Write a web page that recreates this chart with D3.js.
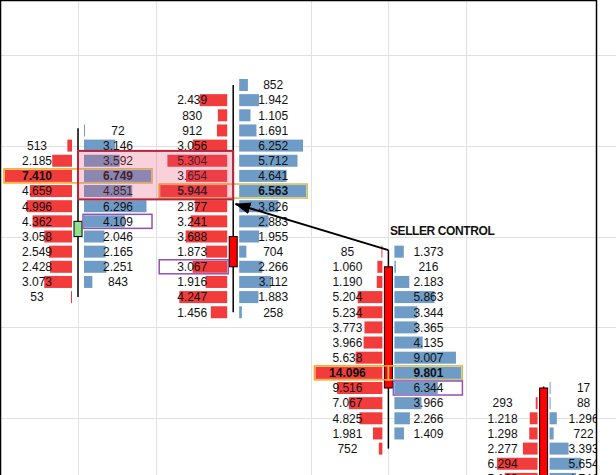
<!DOCTYPE html>
<html>
<head>
<meta charset="utf-8">
<script src="https://cdn.jsdelivr.net/npm/d3@7/dist/d3.min.js"></script>
<style>
body { margin: 0; background: #fff; }
text { font-family: "Liberation Sans", Arial, sans-serif; }
</style>
</head>
<body>
<div id="chart"></div>
<script>
// price levels are counted downward, level 0 = top row of the 2nd bar
var fp1Start = 3;
var fp1Bid = [null, 513, 2185, 7410, 4659, 4996, 4362, 3058, 2549, 2428, 3073, 53];
var fp1Ask = [72, 3146, 3592, 6749, 4851, 6296, 4109, 2046, 2165, 2251, 843, null];

var fp2Start = 0;
var fp2Bid = [null, 2439, 830, 912, 3056, 5304, 3654, 5944, 2877, 3241, 3688, 1873, 3067, 1916, 4247, 1456];
var fp2Ask = [852, 1942, 1105, 1691, 6252, 5712, 4641, 6563, 3826, 2883, 1955, 704, 2266, 3112, 1883, 258];

var fp3Start = 11;
var fp3Bid = [85, 1060, 1190, 5204, 5234, 3773, 3966, 5638, 14096, 9516, 7067, 4825, 1981, 752];
var fp3Ask = [1373, 216, 2183, 5863, 3344, 3365, 4135, 9007, 9801, 6344, 3966, 2266, 1409, null];

var fp4Start = 20;
var fp4Bid = [null, 293, 1218, 1298, 2277, 6294, 5103];
var fp4Ask = [17, 88, 1296, 722, 3393, 5654, 4741];
// the 4th bar goes on below the frame, its biggest rows are not visible
var fp4BidMax = 10400, fp4AskMax = 12000;

// candles (in price levels)
var candleOpen  = [10, 10, 12, 20];
var candleClose = [9, 12, 20, 30];
var candleHigh  = [2.85, 0, 10.9, 19.9];
var candleLow   = [14, 15, 24, 30];

// highlighted cells
var pocLevel = [6, 7, 19, null];
var markSide = ["ask", "bid", "ask", null];
var markLevel = [9, 12, 20, null];

// grid positions
var gridSlots = [0, 0.5, 1.5, 2, 2.5];
var gridLevels = [-2, 4, 10, 16, 22, 28];

// zone, arrow and label
var zoneSlots = [0, 1], zoneLevels = [4.35, 7.55];
var arrowFrom = [2, 10.9], arrowTo = [1.015, 7.85];
var labelPos = [2.01, 9.6], labelText = "SELLER CONTROL";

var width = 616, height = 475, plotRight = 596;
var fmt = d3.formatLocale({decimal: ",", thousands: ".", grouping: [3], currency: ["", ""]}).format(",");

var x = d3.scaleLinear().domain([0, 3]).range([78, 543.6]);
var y = d3.scaleLinear().domain([0, 24]).range([85, 448.6]);

var footprints = [
  {start: fp1Start, bid: fp1Bid, ask: fp1Ask, bidMax: d3.max(fp1Bid), askMax: d3.max(fp1Ask)},
  {start: fp2Start, bid: fp2Bid, ask: fp2Ask, bidMax: d3.max(fp2Bid), askMax: d3.max(fp2Ask)},
  {start: fp3Start, bid: fp3Bid, ask: fp3Ask, bidMax: d3.max(fp3Bid), askMax: d3.max(fp3Ask)},
  {start: fp4Start, bid: fp4Bid, ask: fp4Ask, bidMax: fp4BidMax, askMax: fp4AskMax}
];

var svg = d3.select("#chart")
  .append("svg")
  .attr("width", width)
  .attr("height", height);

svg.append("defs").append("clipPath").attr("id", "plot")
  .append("rect").attr("x", 0).attr("y", 0).attr("width", plotRight).attr("height", height);

svg.append("defs").append("marker")
  .attr("id", "head")
  .attr("markerUnits", "userSpaceOnUse")
  .attr("viewBox", "0 0 16 12")
  .attr("refX", 15).attr("refY", 6)
  .attr("markerWidth", 16).attr("markerHeight", 12)
  .attr("orient", "auto")
  .append("path").attr("d", "M0,0 L16,6 L0,12 Z").attr("fill", "#000");

// grid
svg.append("g").selectAll("line")
  .data(gridLevels).join("line")
  .attr("x1", 0).attr("x2", width)
  .attr("y1", d => Math.round(y(d)) + 0.5).attr("y2", d => Math.round(y(d)) + 0.5)
  .attr("stroke", "#e1e1e1");
svg.append("g").selectAll("line")
  .data(gridSlots).join("line")
  .attr("x1", d => Math.round(x(d)) + 0.5).attr("x2", d => Math.round(x(d)) + 0.5)
  .attr("y1", 0).attr("y2", height)
  .attr("stroke", "#e1e1e1");

var plot = svg.append("g").attr("clip-path", "url(#plot)");

var rowH = 12;

footprints.forEach(function(fp, i) {
  var cx = x(i);
  var bw = d3.scaleLinear().domain([0, fp.bidMax]).range([0, 67]);
  var aw = d3.scaleLinear().domain([0, fp.askMax]).range([0, 67]);
  var rows = fp.bid.map(function(b, k) { return {level: fp.start + k, bid: b, ask: fp.ask[k]}; });

  var g = plot.append("g");

  g.selectAll("rect.bid")
    .data(rows.filter(d => d.bid != null)).join("rect")
    .attr("class", "bid")
    .attr("x", d => cx - 6 - Math.max(1, bw(d.bid)))
    .attr("y", d => y(d.level) - rowH / 2)
    .attr("width", d => Math.max(1, bw(d.bid)))
    .attr("height", rowH)
    .attr("fill", "#f23c3c");

  g.selectAll("rect.ask")
    .data(rows.filter(d => d.ask != null)).join("rect")
    .attr("class", "ask")
    .attr("x", cx + 6)
    .attr("y", d => y(d.level) - rowH / 2)
    .attr("width", d => Math.max(1, aw(d.ask)))
    .attr("height", rowH)
    .attr("fill", "#6f9cc7");

  // wick + body
  g.append("line")
    .attr("x1", cx).attr("x2", cx)
    .attr("y1", y(candleHigh[i])).attr("y2", y(candleLow[i]))
    .attr("stroke", "#000").attr("stroke-width", 1.5);
  var up = candleClose[i] < candleOpen[i];
  g.append("rect")
    .attr("x", cx - 4).attr("width", 8)
    .attr("y", y(Math.min(candleOpen[i], candleClose[i])))
    .attr("height", Math.abs(y(candleOpen[i]) - y(candleClose[i])))
    .attr("fill", up ? "#8fe08f" : "#ff0000")
    .attr("stroke", "#000").attr("stroke-width", 1);

  // point of control box
  if (pocLevel[i] != null) {
    var py = y(pocLevel[i]) - 7;
    g.append("rect").attr("x", cx - 74).attr("y", py).attr("width", 74).attr("height", 14)
      .attr("fill", "none").attr("stroke", "#f5a623").attr("stroke-width", 1.5);
    g.append("rect").attr("x", cx).attr("y", py).attr("width", 74).attr("height", 14)
      .attr("fill", "none").attr("stroke", "#cdbf55").attr("stroke-width", 1.5);
  }
  // imbalance box
  if (markLevel[i] != null) {
    var my = y(markLevel[i]) - 7;
    g.append("rect")
      .attr("x", markSide[i] == "ask" ? cx + 5 : cx - 74)
      .attr("y", my).attr("width", 69).attr("height", 14)
      .attr("fill", "none").attr("stroke", "#9150b4").attr("stroke-width", 1.5);
  }

  g.selectAll("text.bid")
    .data(rows.filter(d => d.bid != null)).join("text")
    .attr("x", cx - 41).attr("y", d => y(d.level)).attr("dy", "0.36em")
    .attr("text-anchor", "middle")
    .style("font-size", "12px")
    .style("font-weight", d => d.level == pocLevel[i] ? "bold" : "normal")
    .attr("fill", "#111")
    .text(d => fmt(d.bid));

  g.selectAll("text.ask")
    .data(rows.filter(d => d.ask != null)).join("text")
    .attr("x", cx + 40).attr("y", d => y(d.level)).attr("dy", "0.36em")
    .attr("text-anchor", "middle")
    .style("font-size", "12px")
    .style("font-weight", d => d.level == pocLevel[i] ? "bold" : "normal")
    .attr("fill", "#111")
    .text(d => fmt(d.ask));
});

// zone between the two first bars
plot.append("rect")
  .attr("x", x(zoneSlots[0])).attr("width", x(zoneSlots[1]) - x(zoneSlots[0]))
  .attr("y", y(zoneLevels[0])).attr("height", y(zoneLevels[1]) - y(zoneLevels[0]))
  .attr("fill", "rgba(228,70,110,0.25)")
  .attr("stroke", "#b7243d").attr("stroke-width", 2);

// arrow + label
plot.append("line")
  .attr("x1", x(arrowFrom[0])).attr("y1", y(arrowFrom[1]))
  .attr("x2", x(arrowTo[0])).attr("y2", y(arrowTo[1]))
  .attr("stroke", "#000").attr("stroke-width", 2)
  .attr("marker-end", "url(#head)");

plot.append("text")
  .attr("x", x(labelPos[0])).attr("y", y(labelPos[1])).attr("dy", "0.36em")
  .style("font-size", "12px").style("font-weight", "bold")
  .style("letter-spacing", "-0.4px")
  .attr("fill", "#111")
  .text(labelText);

// frame
svg.append("path")
  .attr("d", "M0.5," + height + " V0.5 H" + (plotRight + 0.5) + " V" + height)
  .attr("fill", "none").attr("stroke", "#000").attr("stroke-width", 1.5);
</script>
</body>
</html>
